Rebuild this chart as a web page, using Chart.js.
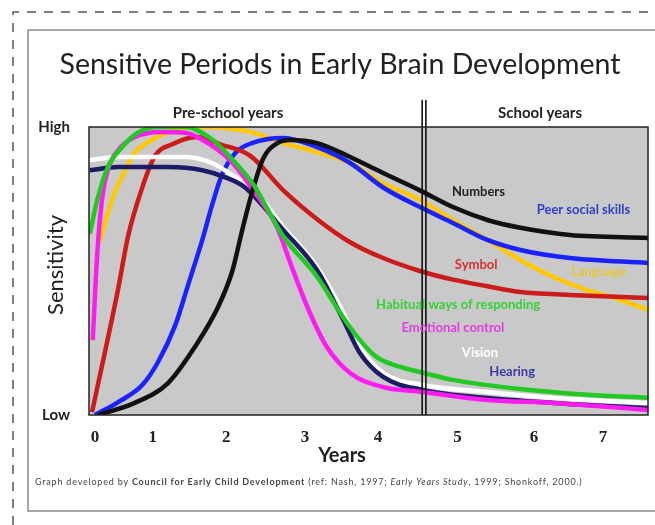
<!DOCTYPE html>
<html>
<head>
<meta charset="utf-8">
<title>Sensitive Periods in Early Brain Development</title>
<script src="https://cdn.jsdelivr.net/npm/chart.js@4.4.1/dist/chart.umd.min.js"></script>
<style>
  body { margin: 0; background: #fff; }
  #wrap { position: relative; width: 655px; height: 525px; }
</style>
</head>
<body>
<div id="wrap"><canvas id="brainChart" width="655" height="525"></canvas></div>
<script>
// valori: x = anni (posizione sul grafico), y = sensibilita 0 (Low) .. 1 (High)
const xTickLabels = ['0', '1', '2', '3', '4', '5', '6', '7'];
const xTickPos = [0.08, 0.85, 1.83, 2.88, 3.85, 4.91, 5.93, 6.85];
const yTickLabels = ['Low', 'High'];
const schoolStart = [4.44, 4.49];

const numbers = [[0.12,0.0],[0.61,0.042],[1.05,0.11],[1.41,0.236],[1.72,0.375],[1.91,0.50],[2.04,0.64],[2.17,0.77],[2.32,0.89],[2.51,0.944],[2.68,0.955],[3.04,0.944],[3.48,0.896],[3.92,0.84],[4.41,0.78],[4.85,0.722],[5.31,0.677],[5.75,0.65],[6.41,0.625],[7.45,0.615]];
const peerSocial = [[0.08,0.0],[0.39,0.045],[0.71,0.104],[0.92,0.184],[1.15,0.312],[1.32,0.451],[1.51,0.608],[1.64,0.729],[1.77,0.833],[1.95,0.91],[2.17,0.944],[2.59,0.962],[3.04,0.93],[3.48,0.875],[3.92,0.79],[4.41,0.722],[4.85,0.667],[5.31,0.608],[5.75,0.573],[6.41,0.545],[7.45,0.528]];
const symbol = [[0.04,0.01],[0.21,0.215],[0.39,0.44],[0.52,0.62],[0.71,0.79],[0.88,0.90],[1.11,0.94],[1.44,0.965],[1.75,0.94],[2.15,0.90],[2.59,0.78],[3.04,0.68],[3.48,0.60],[3.92,0.545],[4.41,0.50],[4.85,0.47],[5.31,0.447],[5.75,0.427],[6.41,0.417],[7.45,0.406]];
const language = [[0.14,0.60],[0.31,0.75],[0.44,0.826],[0.61,0.91],[0.84,0.955],[1.15,0.99],[1.51,1.0],[2.15,0.983],[2.59,0.944],[3.04,0.913],[3.48,0.875],[3.92,0.805],[4.41,0.747],[4.85,0.677],[5.31,0.608],[5.75,0.538],[6.19,0.479],[6.64,0.434],[7.08,0.40],[7.45,0.365]];
const habitual = [[0.01,0.63],[0.12,0.757],[0.25,0.86],[0.44,0.93],[0.65,0.98],[0.92,1.0],[1.28,1.0],[1.65,0.955],[1.88,0.896],[2.19,0.80],[2.59,0.62],[3.04,0.48],[3.35,0.354],[3.61,0.26],[3.84,0.20],[4.15,0.167],[4.51,0.143],[4.85,0.122],[5.75,0.09],[6.64,0.07],[7.45,0.06]];
const emotional = [[0.05,0.26],[0.11,0.56],[0.17,0.74],[0.25,0.85],[0.39,0.92],[0.61,0.965],[0.97,0.983],[1.28,0.98],[1.48,0.96],[1.88,0.885],[2.19,0.78],[2.51,0.65],[2.68,0.53],[2.91,0.375],[3.17,0.236],[3.48,0.146],[3.92,0.097],[4.45,0.08],[5.31,0.052],[6.19,0.042],[7.45,0.017]];
const vision = [[0.01,0.885],[0.41,0.896],[1.28,0.896],[1.64,0.875],[1.95,0.826],[2.17,0.79],[2.59,0.653],[3.04,0.514],[3.35,0.375],[3.61,0.236],[3.92,0.146],[4.45,0.104],[5.31,0.08],[6.19,0.059],[7.45,0.042]];
const hearing = [[0.01,0.85],[0.39,0.861],[1.05,0.861],[1.51,0.85],[1.81,0.826],[2.08,0.79],[2.59,0.642],[3.04,0.503],[3.39,0.33],[3.61,0.215],[3.92,0.132],[4.45,0.087],[5.31,0.059],[6.19,0.042],[7.45,0.024]];

// etichette delle curve: testo, colore, posizione (in unita del grafico)
const curveLabels = [
    { text: 'Numbers', color: '#222222', x: 5.19, y: 0.774 },
    { text: 'Peer social skills', color: '#2b3fc9', x: 6.59, y: 0.712 },
    { text: 'Symbol', color: '#d23434', x: 5.16, y: 0.521 },
    { text: 'Language', color: '#e6c43c', x: 6.79, y: 0.497 },
    { text: 'Habitual ways of responding', color: '#39cf39', x: 4.92, y: 0.382 },
    { text: 'Emotional control', color: '#e03ee0', x: 4.85, y: 0.302 },
    { text: 'Vision', color: '#ffffff', x: 5.21, y: 0.215 },
    { text: 'Hearing', color: '#3a3aa6', x: 5.64, y: 0.149 }
];

function toPoints(arr) {
    return arr.map(p => ({ x: p[0], y: p[1] }));
}

function serie(label, arr, color) {
    return {
        label: label,
        data: toPoints(arr),
        borderColor: color,
        borderWidth: 4.5,
        pointRadius: 0,
        fill: false,
        cubicInterpolationMode: 'monotone'
    };
}

// disegna cornici, titolo, testi e la doppia linea degli anni scolastici
const decorPlugin = {
    id: 'decor',
    beforeDraw(chart) {
        const ctx = chart.ctx;
        const a = chart.chartArea;
        ctx.save();
        ctx.fillStyle = '#ffffff';
        ctx.fillRect(0, 0, chart.width, chart.height);

        // bordo tratteggiato esterno
        ctx.strokeStyle = '#555';
        ctx.lineWidth = 1.5;
        ctx.setLineDash([9, 8]);
        ctx.beginPath();
        ctx.moveTo(13, 525);
        ctx.lineTo(13, 12);
        ctx.lineTo(655, 12);
        ctx.stroke();
        ctx.setLineDash([]);

        // riquadro interno
        ctx.strokeStyle = '#8a8a8a';
        ctx.lineWidth = 1.5;
        ctx.strokeRect(28, 30, 640, 481);

        // area del grafico grigia
        ctx.fillStyle = '#c9c9c9';
        ctx.fillRect(a.left, a.top, a.right - a.left, a.bottom - a.top);

        // titolo
        ctx.fillStyle = '#222';
        ctx.textAlign = 'center';
        ctx.textBaseline = 'middle';
        ctx.font = '28.5px Lato, "Open Sans", sans-serif';
        ctx.fillText('Sensitive Periods in Early Brain Development', 340, 65);

        ctx.font = 'bold 15px Lato, "Open Sans", sans-serif';
        ctx.fillText('Pre-school years', 228, 113);
        ctx.fillText('School years', 540, 113);

        // titoli degli assi
        ctx.font = 'bold 20px Lato, "Open Sans", sans-serif';
        ctx.fillText('Years', 342, 456);
        ctx.save();
        ctx.translate(56, 265);
        ctx.rotate(-Math.PI / 2);
        ctx.font = '22px Lato, "Open Sans", sans-serif';
        ctx.fillText('Sensitivity', 0, 0);
        ctx.restore();

        // nota in basso
        const parts = [
            ['', 'Graph developed by '],
            ['bold ', 'Council for Early Child Development'],
            ['', ' (ref: Nash, 1997; '],
            ['italic ', 'Early Years Study'],
            ['', ', 1999; Shonkoff, 2000.)']
        ];
        ctx.textAlign = 'left';
        ctx.fillStyle = '#444';
        ctx.letterSpacing = '0.8px';
        let x = 35;
        parts.forEach(p => {
            ctx.font = p[0] + '9px Lato, "Open Sans", sans-serif';
            ctx.fillText(p[1], x, 482);
            x += ctx.measureText(p[1]).width;
        });
        ctx.restore();
    },
    afterDatasetsDraw(chart) {
        const ctx = chart.ctx;
        const a = chart.chartArea;
        const xs = chart.scales.x;
        const ys = chart.scales.y;
        ctx.save();
        ctx.strokeStyle = '#111';
        ctx.lineWidth = 1.6;
        schoolStart.forEach(v => {
            const px = xs.getPixelForValue(v);
            ctx.beginPath();
            ctx.moveTo(px, a.top - 27);
            ctx.lineTo(px, a.bottom);
            ctx.stroke();
        });
        ctx.strokeStyle = '#222';
        ctx.lineWidth = 1.5;
        ctx.strokeRect(a.left, a.top, a.right - a.left, a.bottom - a.top);

        ctx.textAlign = 'center';
        ctx.textBaseline = 'middle';
        ctx.font = 'bold 13px Lato, "Open Sans", sans-serif';
        curveLabels.forEach(l => {
            ctx.fillStyle = l.color;
            ctx.fillText(l.text, xs.getPixelForValue(l.x), ys.getPixelForValue(l.y));
        });
        ctx.restore();
    }
};

const ctx = document.getElementById('brainChart').getContext('2d');
window.brainChart = new Chart(ctx, {
    type: 'line',
    data: {
        datasets: [
            serie('Habitual ways of responding', habitual, '#22c922'),
            serie('Numbers', numbers, '#111111'),
            serie('Emotional control', emotional, '#ff1cf0'),
            serie('Hearing', hearing, '#1c1c66'),
            serie('Vision', vision, '#ffffff'),
            serie('Symbol', symbol, '#cc1b1b'),
            serie('Peer social skills', peerSocial, '#1a22ff'),
            serie('Language', language, '#ffc800')
        ]
    },
    options: {
        responsive: false,
        animation: false,
        layout: { padding: { left: 0, right: 7, top: 127, bottom: 70 } },
        plugins: {
            legend: { display: false },
            tooltip: { enabled: false }
        },
        scales: {
            x: {
                type: 'linear',
                min: 0,
                max: 7.45,
                grid: { display: false },
                border: { display: false },
                afterBuildTicks: (scale) => { scale.ticks = xTickPos.map(v => ({ value: v })); },
                afterFit: (scale) => { scale.height = 40; },
                ticks: {
                    padding: 4,
                    color: '#222',
                    font: { family: '"Liberation Serif", serif', size: 17, weight: 'bold' },
                    callback: (v, i) => xTickLabels[i]
                }
            },
            y: {
                min: 0,
                max: 1,
                grid: { display: false },
                border: { display: false },
                afterBuildTicks: (scale) => { scale.ticks = [{ value: 0 }, { value: 1 }]; },
                afterFit: (scale) => { scale.width = 89; },
                ticks: {
                    padding: 11,
                    color: '#222',
                    font: { family: 'Lato, "Open Sans", sans-serif', size: 15, weight: 'bold' },
                    callback: (v, i) => yTickLabels[i]
                }
            }
        }
    },
    plugins: [decorPlugin]
});
</script>
</body>
</html>
